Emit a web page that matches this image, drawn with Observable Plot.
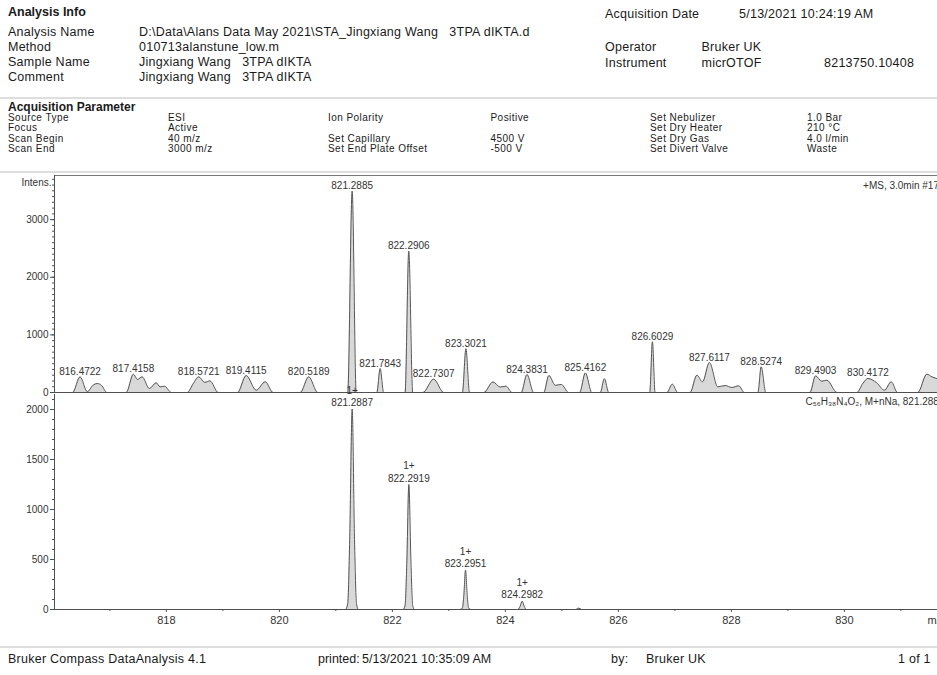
<!DOCTYPE html>
<html>
<head>
<meta charset="utf-8">
<script src="https://cdn.jsdelivr.net/npm/d3@7"></script>
<script src="https://cdn.jsdelivr.net/npm/@observablehq/plot@0.6"></script>
<style>
  html, body { margin: 0; padding: 0; background: #fff; }
  #page { position: relative; width: 937px; height: 675px; overflow: hidden; background: #fff; }
  .t { position: absolute; white-space: pre; font-family: "Liberation Sans", Arial, sans-serif; color: #1a1a1a; }
  .h12 { font-size: 12.5px; line-height: 14px; letter-spacing: 0.25px; }
  .h10 { font-size: 10px; line-height: 10px; letter-spacing: 0.45px; }
  .b { font-weight: bold; letter-spacing: 0; }
  .rule { position: absolute; left: 0; width: 937px; height: 2px; background: #dedede; }
  #top, #bottom { position: absolute; left: 0; }
  #top { top: 165px; }
  #bottom { top: 390px; }
</style>
</head>
<body>
<div id="page">
  <div class="t h12 b" style="left:8px; top:4.7px;">Analysis Info</div>
  <div class="t h12" style="left:8px; top:24.7px;">Analysis Name</div>
  <div class="t h12" style="left:139px; top:24.7px;">D:\Data\Alans Data May 2021\STA_Jingxiang Wang   3TPA dIKTA.d</div>
  <div class="t h12" style="left:8px; top:39.7px;">Method</div>
  <div class="t h12" style="left:139px; top:39.7px;">010713alanstune_low.m</div>
  <div class="t h12" style="left:8px; top:55px;">Sample Name</div>
  <div class="t h12" style="left:139px; top:55px;">Jingxiang Wang   3TPA dIKTA</div>
  <div class="t h12" style="left:8px; top:70px;">Comment</div>
  <div class="t h12" style="left:139px; top:70px;">Jingxiang Wang   3TPA dIKTA</div>

  <div class="t h12" style="left:605px; top:7.3px;">Acquisition Date</div>
  <div class="t h12" style="left:739px; top:7.3px;">5/13/2021 10:24:19 AM</div>
  <div class="t h12" style="left:605px; top:40.3px;">Operator</div>
  <div class="t h12" style="left:701.5px; top:40.3px;">Bruker UK</div>
  <div class="t h12" style="left:605px; top:55.7px;">Instrument</div>
  <div class="t h12" style="left:701.5px; top:55.7px;">micrOTOF</div>
  <div class="t h12" style="left:824px; top:55.7px;">8213750.10408</div>

  <div class="rule" style="top:96.5px;"></div>

  <div class="t h12 b" style="left:8px; top:99.7px; font-size:12px;">Acquisition Parameter</div>
  <div class="t h10" style="left:8px; top:113.3px;">Source Type</div>
  <div class="t h10" style="left:8px; top:123.4px;">Focus</div>
  <div class="t h10" style="left:8px; top:133.5px;">Scan Begin</div>
  <div class="t h10" style="left:8px; top:143.6px;">Scan End</div>
  <div class="t h10" style="left:168px; top:113.3px;">ESI</div>
  <div class="t h10" style="left:168px; top:123.4px;">Active</div>
  <div class="t h10" style="left:168px; top:133.5px;">40 m/z</div>
  <div class="t h10" style="left:168px; top:143.6px;">3000 m/z</div>
  <div class="t h10" style="left:328px; top:113.3px;">Ion Polarity</div>
  <div class="t h10" style="left:328px; top:133.5px;">Set Capillary</div>
  <div class="t h10" style="left:328px; top:143.6px;">Set End Plate Offset</div>
  <div class="t h10" style="left:490.5px; top:113.3px;">Positive</div>
  <div class="t h10" style="left:490.5px; top:133.5px;">4500 V</div>
  <div class="t h10" style="left:490.5px; top:143.6px;">-500 V</div>
  <div class="t h10" style="left:650px; top:113.3px;">Set Nebulizer</div>
  <div class="t h10" style="left:650px; top:123.4px;">Set Dry Heater</div>
  <div class="t h10" style="left:650px; top:133.5px;">Set Dry Gas</div>
  <div class="t h10" style="left:650px; top:143.6px;">Set Divert Valve</div>
  <div class="t h10" style="left:807px; top:113.3px;">1.0 Bar</div>
  <div class="t h10" style="left:807px; top:123.4px;">210 °C</div>
  <div class="t h10" style="left:807px; top:133.5px;">4.0 l/min</div>
  <div class="t h10" style="left:807px; top:143.6px;">Waste</div>

  <div class="rule" style="top:170.5px;"></div>

  <div id="top"></div>
  <div id="bottom"></div>

  <div class="rule" style="top:646px;"></div>
  <div class="t h12" style="left:8px; top:652px;">Bruker Compass DataAnalysis 4.1</div>
  <div class="t h12" style="left:318px; top:652px; letter-spacing:0;">printed:</div>
  <div class="t h12" style="left:362px; top:652px; letter-spacing:0;">5/13/2021 10:35:09 AM</div>
  <div class="t h12" style="left:611px; top:652px;">by:</div>
  <div class="t h12" style="left:646px; top:652px;">Bruker UK</div>
  <div class="t h12" style="left:898px; top:652px;">1 of 1</div>
</div>

<script>
// ---------- data ----------
// measured spectrum (+MS, 3.0min): profile points m/z / intensity
const topMz = [
  816.02, 816.34, 816.4722, 816.60, 816.71, 816.78, 816.85, 816.95,
  817.29, 817.4158, 817.49, 817.57, 817.70, 817.82, 817.89, 817.965, 818.09,
  818.37, 818.48, 818.5721, 818.68, 818.77, 818.92,
  819.26, 819.4115, 819.59, 819.75, 819.89,
  820.37, 820.5189, 820.68,
  821.21, 821.2885, 821.36,
  821.725, 821.7843, 821.845,
  822.225, 822.2906, 822.36,
  822.54, 822.7307, 822.91,
  823.24, 823.3021, 823.365,
  823.62, 823.78, 823.91, 824.01, 824.12,
  824.28, 824.3831, 824.50,
  824.68, 824.77, 824.885, 824.99, 825.12,
  825.315, 825.4162, 825.53,
  825.68, 825.752, 825.83,
  826.555, 826.6029, 826.65,
  826.86, 826.955, 827.05,
  827.27, 827.39, 827.49, 827.6117, 827.76, 827.89, 828.01, 828.13, 828.23,
  828.47, 828.5274, 828.61,
  829.39, 829.4903, 829.60, 829.69, 829.87,
  830.22, 830.33, 830.4172, 830.57, 830.71, 830.83, 830.94,
  831.30, 831.46, 831.55, 831.66
];
const topInt = [
  0, 0, 272, 15, 133, 156, 125, 0,
  0, 318, 225, 272, 69, 168, 98, 110, 0,
  0, 160, 272, 175, 202, 0,
  0, 295, 40, 185, 0,
  0, 272, 0,
  0, 3494, 0,
  0, 416, 0,
  0, 2454, 0,
  0, 231, 0,
  0, 760, 0,
  0, 182, 95, 110, 0,
  0, 312, 0,
  0, 295, 125, 140, 0,
  0, 340, 0,
  0, 240, 0,
  0, 880, 0,
  0, 145, 0,
  0, 300, 185, 520, 98, 121, 87, 116, 0,
  0, 445, 0,
  0, 289, 195, 214, 0,
  0, 160, 243, 170, 40, 185, 0,
  0, 318, 272, 235
];
// labelled peaks of the measured spectrum
const topPeakMz  = [816.4722, 817.4158, 818.5721, 819.4115, 820.5189, 821.2885, 821.7843, 822.2906,
                    822.7307, 823.3021, 824.3831, 825.4162, 826.6029, 827.6117, 828.5274, 829.4903, 830.4172];
const topPeakInt = [272, 318, 272, 295, 272, 3494, 416, 2454, 231, 760, 312, 340, 880, 520, 445, 289, 243];

// simulated isotope pattern C56H38N4O2, M+nNa
const botMz = [
  820.95, 821.17, 821.21, 821.245, 821.2887, 821.33, 821.365, 821.40,
  822.19, 822.225, 822.255, 822.2919, 822.33, 822.36, 822.39,
  823.20, 823.24, 823.265, 823.2951, 823.325, 823.35, 823.39,
  824.22, 824.26, 824.2982, 824.335, 824.37,
  825.25, 825.30, 825.35, 825.50
];
const botInt = [
  0, 0, 60, 700, 2005, 700, 60, 0,
  0, 40, 450, 1250, 450, 40, 0,
  0, 15, 140, 393, 140, 15, 0,
  0, 30, 83, 30, 0,
  0, 14, 0, 0
];
const botPeakMz     = [821.2887, 822.2919, 823.2951, 824.2982];
const botPeakInt    = [2005, 1250, 393, 83];
const botPeakCharge = ["1+", "1+", "1+", "1+"];

// axes
const xDomain      = [816.02, 831.79];
const yTopMax      = 3766;
const yBotMax      = 2150;
const yTicksTop    = [0, 1000, 2000, 3000];
const yTicksBottom = [0, 500, 1000, 1500, 2000];
const xTicks       = [818, 820, 822, 824, 826, 828, 830];
const xMinorTicks  = [817, 819, 821, 823, 825, 827, 829, 831];
const topTitle     = "+MS, 3.0min #177";
const botTitle     = "C\u2085\u2086H\u2083\u2088N\u2084O\u2082, M+nNa, 821.2887";
const yLabel       = "Intens.";
const xLabel       = "m/z";

// ---------- build ----------
const topData = topMz.map((mz, k) => ({mz, v: topInt[k]}));
const topPeaks = topPeakMz.map((mz, k) => ({mz, v: topPeakInt[k]}));
const botData = botMz.map((mz, k) => ({mz, v: botInt[k]}));
const botPeaks = botPeakMz.map((mz, k) => ({mz, v: botPeakInt[k], c: botPeakCharge[k]}));

const W = 960;
const FONT = "'Liberation Sans', Arial, sans-serif";
const svgStyle = {fontFamily: FONT, fontSize: "10px", color: "#333", background: "transparent", overflow: "visible", maxWidth: "none"};
const AX = "#505050";
const FILL = "#d9d9d9";
const LINE = "#555";
const fmt = d => String(d);

const topPlot = Plot.plot({
  width: W, height: 232,
  marginLeft: 54, marginRight: 15, marginTop: 10, marginBottom: 5,
  style: svgStyle,
  x: {domain: xDomain, axis: null},
  y: {domain: [0, yTopMax], axis: null},
  marks: [
    Plot.areaY(topData, {x: "mz", y: "v", fill: FILL, curve: "monotone-x"}),
    Plot.lineY(topData, {x: "mz", y: "v", stroke: LINE, strokeWidth: 1, curve: "monotone-x"}),
    Plot.ruleY([0], {stroke: AX}),
    Plot.ruleY([yTopMax], {stroke: "#777"}),
    Plot.ruleX([xDomain[0]], {stroke: AX}),
    Plot.axisY({ticks: d3.range(0, yTopMax, 100), tickSize: 2, stroke: AX, fill: "none", label: null}),
    Plot.axisY({ticks: yTicksTop, tickFormat: fmt, tickSize: 4, tickPadding: 2, stroke: AX, fill: "#333", fontSize: 10, label: null}),
    Plot.text(topPeaks, {x: "mz", y: "v", text: d => d.mz.toFixed(4), dy: -2, lineAnchor: "bottom", fontSize: 10, fill: "#333"}),
    Plot.text([yLabel], {frameAnchor: "top-left", dx: -3, dy: 7, textAnchor: "end", lineAnchor: "middle", fontSize: 10, fill: "#333"}),
    Plot.text([topTitle], {frameAnchor: "top-right", dx: -1, dy: 10, textAnchor: "end", lineAnchor: "middle", fontSize: 10, fill: "#333"})
  ]
});
document.getElementById("top").appendChild(topPlot);

const botPlot = Plot.plot({
  width: W, height: 250,
  marginLeft: 54, marginRight: 15, marginTop: 4, marginBottom: 31,
  style: svgStyle,
  x: {domain: xDomain},
  y: {domain: [0, yBotMax], axis: null},
  marks: [
    Plot.areaY(botData, {x: "mz", y: "v", fill: FILL, curve: "monotone-x"}),
    Plot.lineY(botData, {x: "mz", y: "v", stroke: LINE, strokeWidth: 1, curve: "monotone-x"}),
    Plot.ruleY([0], {stroke: AX}),
    Plot.ruleX([xDomain[0]], {stroke: AX}),
    Plot.axisY({ticks: d3.range(0, yBotMax, 100), tickSize: 2, stroke: AX, fill: "none", label: null}),
    Plot.axisY({ticks: yTicksBottom, tickFormat: fmt, tickSize: 4, tickPadding: 2, stroke: AX, fill: "#333", fontSize: 10, label: null}),
    Plot.axisX({ticks: xMinorTicks, tickSize: 2, stroke: AX, fill: "none", label: null}),
    Plot.axisX({ticks: xTicks, tickFormat: fmt, tickSize: 3, tickPadding: 4, stroke: AX, fill: "#333", fontSize: 11, label: null}),
    Plot.text(botPeaks, {x: "mz", y: "v", text: d => d.c + "\n" + d.mz.toFixed(4), dy: -3, lineAnchor: "bottom", lineHeight: 1.25, fontSize: 10, fill: "#333"}),
    Plot.text([botTitle], {frameAnchor: "top-right", dx: -1, dy: 7, textAnchor: "end", lineAnchor: "middle", fontSize: 10, fill: "#333"}),
    Plot.text([xLabel], {frameAnchor: "bottom-right", dx: -18, dy: 11, textAnchor: "start", lineAnchor: "middle", fontSize: 11, fill: "#333"})
  ]
});
document.getElementById("bottom").appendChild(botPlot);
</script>
</body>
</html>
